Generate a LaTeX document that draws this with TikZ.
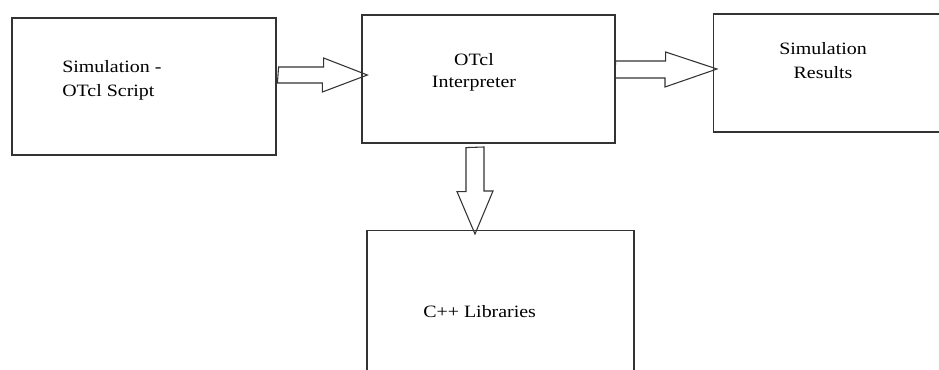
\documentclass[tikz,border=0pt]{standalone}
\usepackage{fontspec}
\setmainfont{Liberation Serif}[FakeStretch=1.15]
\usetikzlibrary{calc}

\begin{document}
\begin{tikzpicture}[
    x=0.75pt, y=-0.75pt,
    box/.style={rectangle, draw=black!80, line width=0.9pt, inner sep=0pt},
    lbl/.style={inner sep=0pt, font=\fontsize{13}{18}\selectfont},
    blockarrow/.style={draw=black!80, line width=0.8pt, line join=miter}
]
\path[use as bounding box, clip] (0,0) rectangle (939,370);
\fill[white] (0,0) rectangle (939,370);

% Boxes
\node [box, minimum width=198pt, minimum height=102.75pt] (script) at (144,86.5) {};
\node [box, minimum width=189.75pt, minimum height=96pt] (interp) at (488.5,79) {};
\node [box, minimum width=180pt, minimum height=88.5pt, anchor=west] (results) at (713,73) {};
\node [box, minimum width=200.25pt, minimum height=120pt, anchor=north] (libs) at (500.5,230) {};

% Texts
\node [lbl, align=left, anchor=west] (scripttxt) at (62,80) {Simulation -\\OTcl Script};
\node [lbl, align=center, font=\fontsize{13}{16.5}\selectfont] (interptxt) at (474,72) {OTcl\\Interpreter};
\node [lbl, align=center] (resultstxt) at (823,61) {Simulation\\Results};
\node [lbl, anchor=base west] (libstxt) at (423,318) {C++ Libraries};

% Block arrows
\draw [blockarrow] ($(script.east)+(2,-19.5)$) -- ++(45,0) -- ++(0,-9)
    -- ($(interp.west)+(6,-4)$) -- ++(-45,17) -- ++(0,-9) -- ++(-45,0) -- cycle;
\draw [blockarrow] ($(interp.east)+(0,-18)$) -- ++(50,0) -- ++(0,-9)
    -- ($(results.west)+(4,-4)$) -- ++(-52,18) -- ++(0,-9) -- ++(-50,0) -- cycle;
\draw [blockarrow] ($(interp.south)+(-22.5,4)$) -- ++(0,44) -- ++(-9,0)
    -- ($(libs.north)+(-25.5,4)$) -- ++(18,-43) -- ++(-9,0) -- ++(0,-44) -- cycle;
\end{tikzpicture}
\end{document}
